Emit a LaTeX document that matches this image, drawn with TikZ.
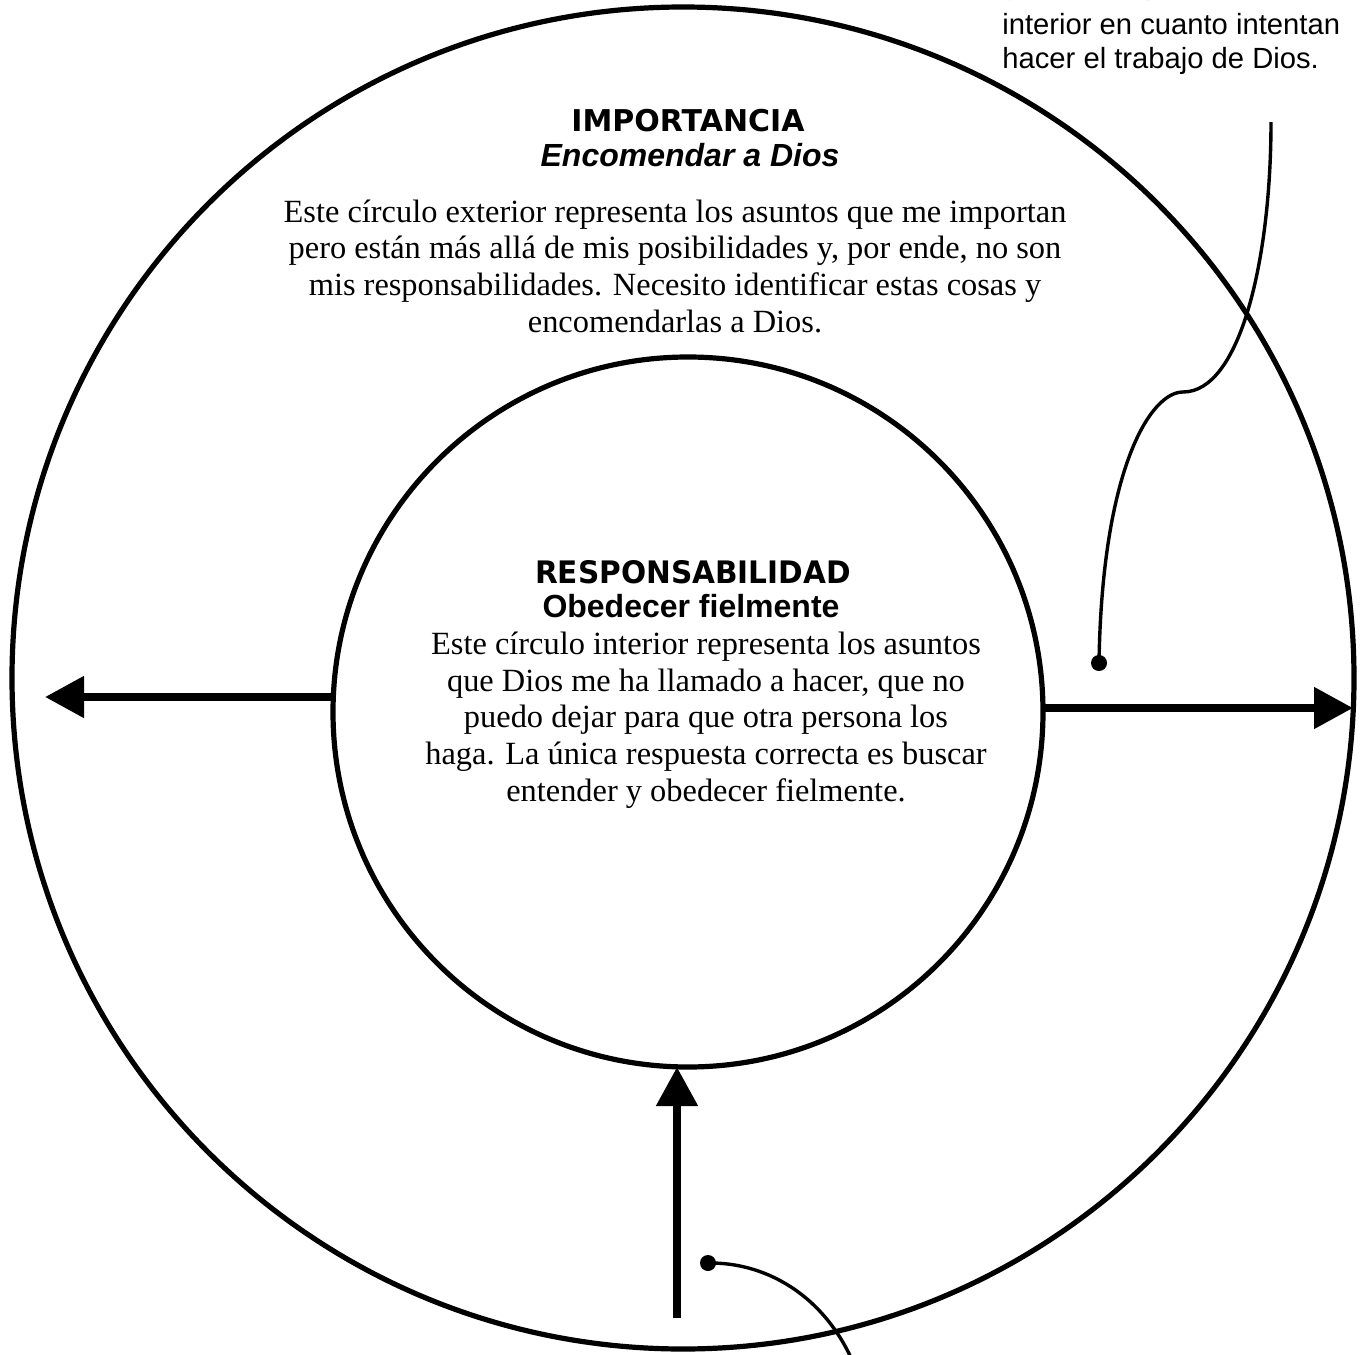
\documentclass[tikz,border=0pt]{standalone}
\usepackage{fontspec}
\setmainfont{Liberation Serif}
\newfontfamily\arialfont{Liberation Sans}
\newfontfamily\headfont{DejaVu Sans}
\newfontfamily\headnarrow[FakeStretch=0.955]{DejaVu Sans}
\usetikzlibrary{arrows.meta}

\tikzset{
  ring/.style={circle, draw, line width=2.6pt, inner sep=0pt, outer sep=0pt},
  fatarrow/.style={line width=4pt, -{Triangle[length=19.5pt, width=20pt]}},
  pointer/.style={line width=1.7pt},
  pointdot/.style={circle, fill, inner sep=0pt, minimum size=8pt},
  % multi-line nodes: the base anchor sits on the baseline of the last line
  bodytext/.style={align=center, inner sep=0pt, anchor=base,
    font=\fontsize{16.2}{18.3}\selectfont},
  notetext/.style={align=left, inner sep=0pt, anchor=base west,
    font=\arialfont\fontsize{14.6}{16.6}\selectfont},
}

\begin{document}
\begin{tikzpicture}[x=0.5pt, y=-0.5pt]
  \useasboundingbox (0,0) rectangle (1362,1355);
  \fill[white] (0,0) rectangle (1362,1355);

  % the two circles
  \node[ring, minimum size=671pt] (outer) at (683,678) {};
  \node[ring, minimum size=355pt] (inner) at (688,712) {};

  % headings and text of the outer ring
  \node[anchor=base, inner sep=0pt, font=\headfont\bfseries\fontsize{15}{18}\selectfont]
    (imptitle) at (688,131) {IMPORTANCIA};
  \node[anchor=base, inner sep=0pt, font=\arialfont\bfseries\itshape\fontsize{16}{19}\selectfont]
    (impsub) at (690,166) {Encomendar a Dios};
  \node[bodytext] (imptext) at (675,332)
    {Este círculo exterior representa los asuntos que me importan\\
     pero están más allá de mis posibilidades y, por ende, no son\\
     mis responsabilidades. Necesito identificar estas cosas y\\
     encomendarlas a Dios.};

  % headings and text of the inner circle
  \node[anchor=base, inner sep=0pt, font=\headnarrow\bfseries\fontsize{15.5}{18}\selectfont]
    (restitle) at (693,583) {RESPONSABILIDAD};
  \node[anchor=base, inner sep=0pt, font=\arialfont\bfseries\fontsize{16}{19}\selectfont]
    (ressub) at (691,617) {Obedecer fielmente};
  \node[bodytext] (restext) at (706,801)
    {Este círculo interior representa los asuntos\\
     que Dios me ha llamado a hacer, que no\\
     puedo dejar para que otra persona los\\
     haga. La única respuesta correcta es buscar\\
     entender y obedecer fielmente.};

  % note in the upper right corner; its first line runs off the top edge
  \node[notetext] (notetop) at (1002,-6) {gente sale por el};
  \node[notetext] (note) at (1002,68)
    {interior en cuanto intentan\\
     hacer el trabajo de Dios.};

  % thick arrows leaving and entering the inner circle
  \coordinate (lefttip) at (45,697);
  \coordinate (righttip) at (1353,708);
  \coordinate (bottomtail) at (677,1318);
  \draw[fatarrow] (inner.west |- lefttip) -- (lefttip);
  \draw[fatarrow] (inner.east |- righttip) -- (righttip);
  \draw[fatarrow] (bottomtail) -- (bottomtail |- inner.south);

  % pointer lines with their dots
  \node[pointdot] (dotright) at (1099,663) {};
  \coordinate (notefoot) at (1271,122);
  \draw[pointer] (dotright.center) .. controls (1102,470) and (1150,392) .. (1183,392)
    .. controls (1240,392) and (1271,260) .. (notefoot);

  \node[pointdot] (dotbottom) at (708,1263) {};
  \coordinate (lowexit) at (857,1372);
  \draw[pointer] (dotbottom.center) .. controls (770,1262) and (830,1300) .. (lowexit);
\end{tikzpicture}
\end{document}
